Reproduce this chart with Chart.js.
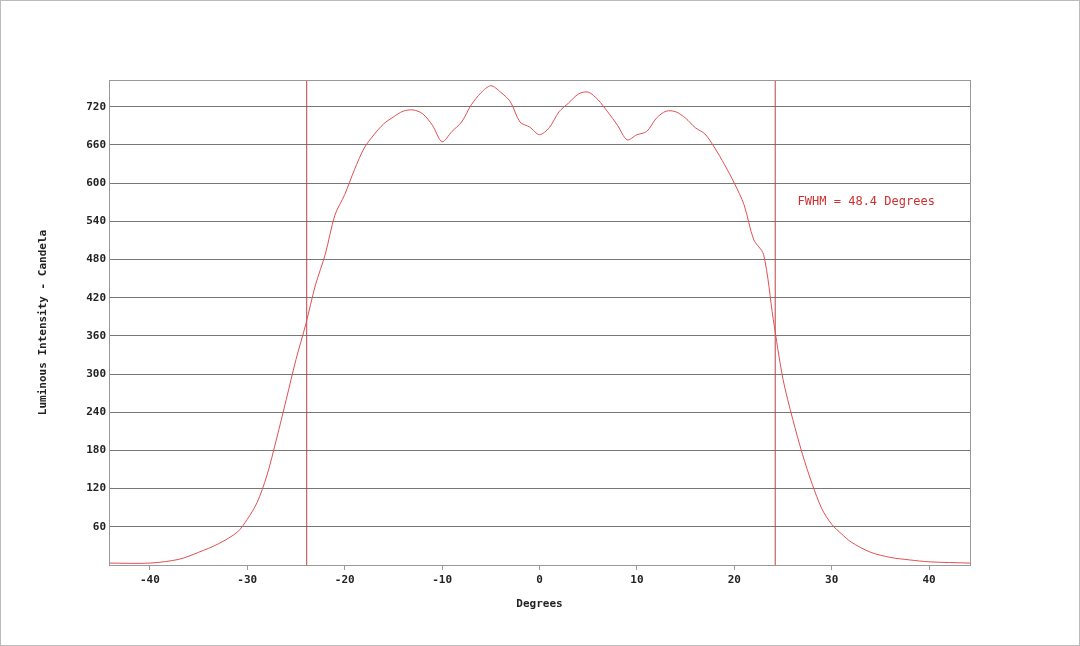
<!DOCTYPE html>
<html><head><meta charset="utf-8">
<script src="https://cdn.jsdelivr.net/npm/chart.js@4/dist/chart.umd.min.js"></script>
<style>html,body{margin:0;padding:0;background:#fff}#w{width:1080px;height:646px;box-sizing:border-box;border:1px solid #bbb}</style>
</head><body><div id="w"><canvas id="c"></canvas></div>
<script>
const degrees = [-44.2,-40,-37,-35,-33,-31,-30,-29,-28,-27,-26,-25,-24,-23,-22,-21,-20,-19,-18,-17,-16,-15,-14,-13,-12,-11,-10,-9,-8,-7,-6,-5,-4,-3,-2,-1,0,1,2,3,4,5,6,7,8,9,10,11,12,13,14,15,16,17,18,19,20,21,22,23,24,25,26,27,28,29,30,31,32,34,36,38,40,44.2];
const intensity = [3,3,9,20,33,52,72,98,140,198,260,323,378,440,488,550,582,621,655,676,693,704,713,715,709,691,665,681,696,723,742,753,743,728,696,688,676,687,712,726,740,743,731,712,691,668,676,681,702,713,712,702,687,677,655,629,600,566,511,488,386,292,229,174,127,88,64,49,36,20,12,8,5,3];
const fwhmLines = [-23.9, 24.2];
const xTicks = [-40,-30,-20,-10,0,10,20,30,40];
const yTicksMax = 762;
const annotationText = 'FWHM = 48.4 Degrees';
const font = {family:'"DejaVu Sans Mono", monospace', size:11, weight:'bold'};
const red = '#e05050';
const ds = [{data:degrees.map((x,i)=>({x,y:intensity[i]})),borderColor:red,borderWidth:1,pointRadius:0,showLine:true,tension:0.3}];
fwhmLines.forEach(v=>ds.push({data:[{x:v,y:0},{x:v,y:yTicksMax}],borderColor:'#c04040',borderWidth:1,pointRadius:0,showLine:true}));
const textPlugin = {id:'txt',afterDatasetsDraw(ch){const c=ch.ctx,xs=ch.scales.x,ys=ch.scales.y;c.save();c.font='12px "DejaVu Sans Mono", monospace';c.fillStyle='#d03030';c.textBaseline='middle';c.fillText(annotationText,xs.getPixelForValue(26.5),ys.getPixelForValue(570));c.restore();}};
const frame = {id:'frame',afterDraw(ch){const a=ch.chartArea,c=ch.ctx;c.save();c.strokeStyle='#999';c.lineWidth=1;c.strokeRect(a.left+.5,a.top+.5,a.right-a.left,a.bottom-a.top);c.restore();}};
new Chart(document.getElementById('c'),{type:'scatter',data:{datasets:ds},plugins:[textPlugin,frame],
options:{responsive:true,maintainAspectRatio:false,animation:false,
layout:{padding:{left:32,right:109,top:79,bottom:30}},
plugins:{legend:{display:false},tooltip:{enabled:false}},
scales:{
x:{type:'linear',min:-44.2,max:44.2,afterFit(s){s.height=50;},
 afterBuildTicks(s){s.ticks=xTicks.map(v=>({value:v}));},
 ticks:{font,color:'#222',autoSkip:false,maxRotation:0,padding:4},
 grid:{drawOnChartArea:false,drawTicks:true,tickLength:5,color:'#999'},border:{color:'#999'},
 title:{display:true,text:'Degrees',font,color:'#222',padding:{top:4}}},
y:{min:0,max:yTicksMax,afterFit(s){s.width=76;},
 ticks:{stepSize:60,font,color:'#222',callback:v=>(v>0&&v%60===0)?String(v):null},
 grid:{color:'#777',lineWidth:1,drawTicks:false},border:{color:'#999'},
 title:{display:true,text:'Luminous Intensity - Candela',font,color:'#222'}}
}}});
</script></body></html>
